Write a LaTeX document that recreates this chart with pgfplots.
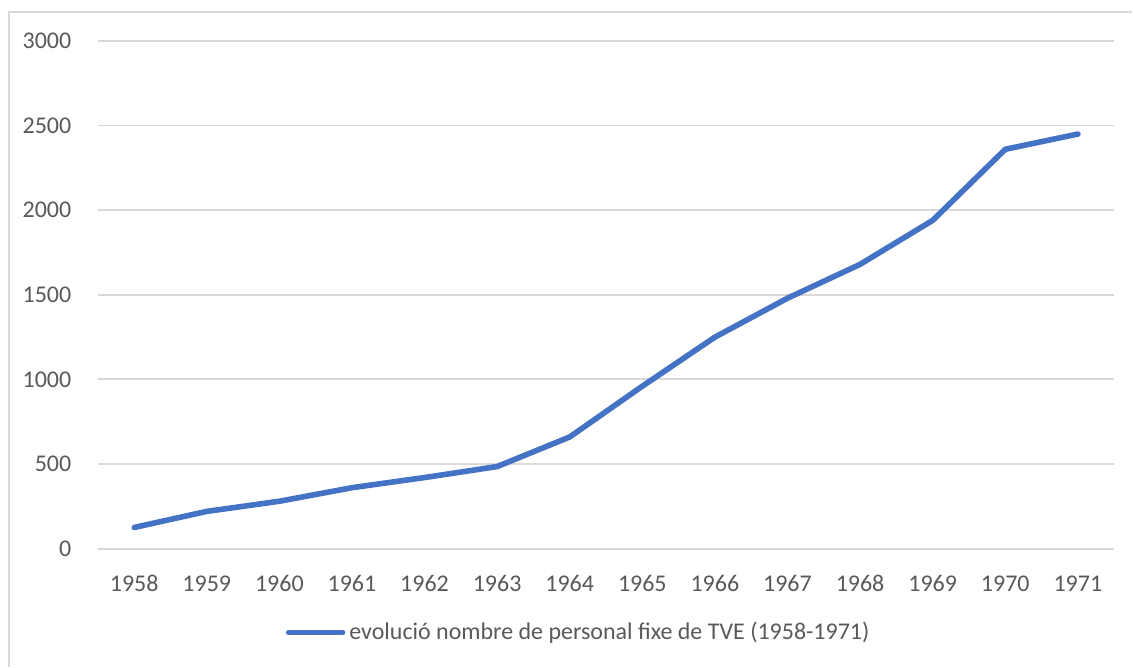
\documentclass[border=0pt]{standalone}
\usepackage{fontspec}
\setmainfont{Carlito}
\usepackage{pgfplots}
\pgfplotsset{compat=1.18}
\definecolor{xlblue}{HTML}{4472C4}
\definecolor{xlgrid}{HTML}{D9D9D9}
\definecolor{xltext}{HTML}{595959}
\begin{document}
\begin{tikzpicture}
  % page and outer chart frame (reference pixels times 0.5bp, origin bottom left)
  \path (0bp,0bp) rectangle (566.5bp,333.5bp);
  \draw[xlgrid, line width=0.8bp] (4.5bp,0bp) -- (4.5bp,327.5bp) -- (566.5bp,327.5bp);
  \begin{axis}[
    at={(49bp,59bp)}, anchor=south west,
    scale only axis,
    width=508.5bp, height=254bp,
    xmin=1957.5, xmax=1971.5,
    ymin=0, ymax=3000,
    xtick={1958,1959,...,1971},
    ytick={0,500,...,3000},
    axis x line=bottom, axis y line=left,
    x axis line style={draw=xlgrid, line width=0.9bp, -},
    y axis line style={draw=none},
    ymajorgrids,
    major grid style={draw=xlgrid, line width=0.9bp},
    tick style={draw=none},
    /pgf/number format/1000 sep={},
    /pgf/number format/assume math mode=true,
    ticklabel style={font=\fontsize{12bp}{14bp}\selectfont, color=xltext, inner sep=0pt},
    yticklabel style={anchor=east, xshift=-11bp},
    xticklabel style={anchor=base, yshift=-19.5bp},
    legend style={at={(0.474,-0.165)}, anchor=center, draw=none, fill=none,
      font=\fontsize{12bp}{14bp}\selectfont, text=xltext, inner sep=0pt,
      cells={anchor=west}},
    legend image code/.code={\draw[#1, line cap=round] (0bp,0bp) -- (27bp,0bp);},
    clip=false
  ]
    \addplot[xlblue, line width=2.8bp, line join=round, line cap=round] coordinates {
      (1958,125) (1959,220) (1960,280) (1961,360) (1962,420) (1963,485)
      (1964,660) (1965,960) (1966,1250) (1967,1480) (1968,1680) (1969,1940)
      (1970,2360) (1971,2450)
    };
    \addlegendentry{evolució nombre de personal fixe de TVE (1958-1971)}
  \end{axis}
\end{tikzpicture}
\end{document}
